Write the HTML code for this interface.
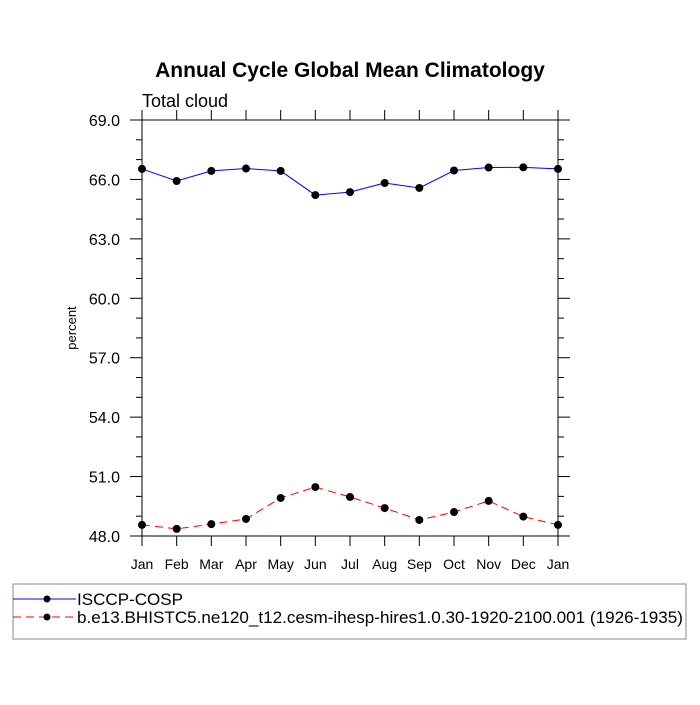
<!DOCTYPE html>
<html><head><meta charset="utf-8"><style>
body{margin:0;background:#fff;}
svg text{font-family:"Liberation Sans",sans-serif;}
</style></head><body>
<svg id="chart" width="700" height="700" xmlns="http://www.w3.org/2000/svg">
<text x="350" y="77" text-anchor="middle" font-size="21" font-weight="bold">Annual Cycle Global Mean Climatology</text>
<text x="142" y="107" font-size="18">Total cloud</text>
<text transform="translate(76,328) rotate(-90)" text-anchor="middle" font-size="13">percent</text>
<g id="axes"></g>
<g id="series"></g>
<g id="legend">
<rect x="13" y="584" width="673" height="55" fill="none" stroke="#888" stroke-width="1"/>
<g>
<line x1="13" y1="599" x2="76" y2="599" stroke="blue" stroke-width="1"/>
<circle cx="47" cy="599" r="3.5" fill="#000"/>
<text x="77" y="605" font-size="17" textLength="106" lengthAdjust="spacingAndGlyphs">ISCCP-COSP</text></g>
<g>
<line x1="13" y1="617" x2="76" y2="617" stroke="red" stroke-width="1" stroke-dasharray="8,5"/>
<circle cx="47" cy="617" r="3.5" fill="#000"/>
<text x="77" y="623" font-size="17" textLength="606" lengthAdjust="spacingAndGlyphs">b.e13.BHISTC5.ne120_t12.cesm-ihesp-hires1.0.30-1920-2100.001 (1926-1935)</text></g>
</g>
</svg>
<script>
const months=["Jan","Feb","Mar","Apr","May","Jun","Jul","Aug","Sep","Oct","Nov","Dec","Jan"];
const obsValues=[66.53,65.92,66.43,66.55,66.43,65.21,65.36,65.82,65.57,66.45,66.6,66.61,66.53];
const modelValues=[48.56,48.36,48.6,48.86,49.92,50.47,49.97,49.41,48.81,49.21,49.77,48.98,48.56];
const yTicks=[48,51,54,57,60,63,66,69];
const L=142,R=558,T=120,B=536,ymin=48,ymax=69;
const NS="http://www.w3.org/2000/svg";
const xs=i=>L+(R-L)*i/(months.length-1);
const ys=v=>B-(B-T)*(v-ymin)/(ymax-ymin);
function mk(tag,attrs,parent){const e=document.createElementNS(NS,tag);for(const k in attrs)e.setAttribute(k,attrs[k]);parent.appendChild(e);return e;}
const ax=document.getElementById('axes');
const frame=mk('rect',{x:L,y:T,width:R-L,height:B-T,fill:'none',stroke:'#000','stroke-width':1},ax);


for(let v=ymin;v<=ymax;v+=1){
  const major=yTicks.includes(v);const len=major?12:6;const y=ys(v);
  mk('line',{x1:L-len,y1:y,x2:L,y2:y,stroke:'#000'},ax);
  mk('line',{x1:R,y1:y,x2:R+len,y2:y,stroke:'#000'},ax);
}
yTicks.forEach(v=>{
  const t=mk('text',{x:120,y:ys(v)+6,'text-anchor':'end','font-size':16},ax);
  t.textContent=v.toFixed(1);
  
  
});
months.forEach((m,i)=>{
  const x=xs(i);
  mk('line',{x1:x,y1:B,x2:x,y2:B+10,stroke:'#000'},ax);
  mk('line',{x1:x,y1:T-10,x2:x,y2:T,stroke:'#000'},ax);
  const t=mk('text',{x:x,y:B+33,'text-anchor':'middle','font-size':14},ax);
  t.textContent=m;
  
  
});
const sg=document.getElementById('series');
function series(vals,color,dash,name){
  const g=mk('g',{},sg);
  
  
  const pts=vals.map((v,i)=>xs(i)+','+ys(v)).join(' ');
  const a={points:pts,fill:'none',stroke:color,'stroke-width':1};
  if(dash)a['stroke-dasharray']=dash;
  mk('polyline',a,g);
  vals.forEach((v,i)=>{const c=mk('circle',{cx:xs(i),cy:ys(v),r:4,fill:'#000'},g);
    
    });
}
series(obsValues,'blue',null,'series-isccp-cosp');
series(modelValues,'red','8,5','series-model');
</script>
</body></html>
